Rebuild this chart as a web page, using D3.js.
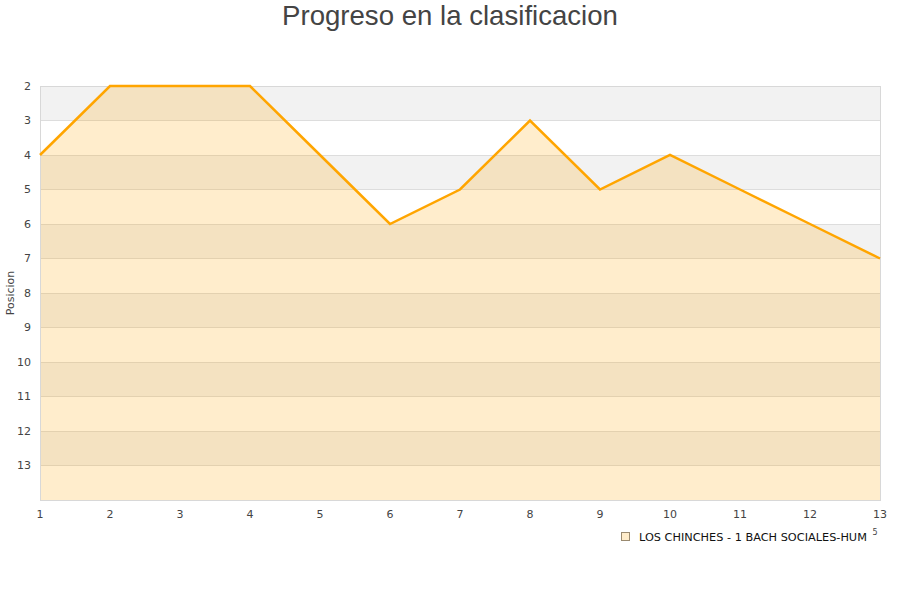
<!DOCTYPE html>
<html><head><meta charset="utf-8">
<script src="https://cdn.jsdelivr.net/npm/d3@7"></script>
<style>body{margin:0;background:#fff}svg{display:block}</style>
</head><body>
<svg id="c" width="900" height="600"></svg>
<script>
const rounds = [1,2,3,4,5,6,7,8,9,10,11,12,13];
const positions = [4,2,2,2,4,6,5,3,5,4,5,6,7];
const yTicks = [2,3,4,5,6,7,8,9,10,11,12,13];
const seriesName = "LOS CHINCHES - 1 BACH SOCIALES-HUM";
const title = "Progreso en la clasificacion";
const yTitle = "Posicion";

const svg = d3.select("#c");
const L = 40, R = 880, T = 86, B = 500;
const x = d3.scaleLinear().domain([1,13]).range([L,R]);
const y = d3.scaleLinear().domain([2,14]).range([T,B]);
const font = "'DejaVu Sans', sans-serif";

// bands
const bandStarts = yTicks.filter((d,i)=>i%2===0);
svg.append("g").selectAll("rect").data(bandStarts).join("rect")
  .attr("x", L).attr("width", R-L)
  .attr("y", d=>y(d)).attr("height", d=>y(d+1)-y(d))
  .attr("fill", "#f2f2f2");

// grid lines
svg.append("g").selectAll("line").data(yTicks).join("line")
  .attr("x1", L).attr("x2", R).attr("y1", d=>y(d)).attr("y2", d=>y(d))
  .attr("stroke", "#dddddd").attr("stroke-width", 1).attr("shape-rendering","crispEdges");

// area
const area = d3.area().x((d,i)=>x(rounds[i])).y0(y(14)).y1(d=>y(d));
svg.append("path").datum(positions).attr("d", area)
  .attr("fill", "#ffa500").attr("fill-opacity", 0.2);

// border
svg.append("rect").attr("x", L).attr("y", T).attr("width", R-L).attr("height", B-T)
  .attr("fill","none").attr("stroke","#d8d8d8").attr("stroke-width",1).attr("shape-rendering","crispEdges");

// line
const line = d3.line().x((d,i)=>x(rounds[i])).y(d=>y(d));
svg.append("path").datum(positions).attr("d", line)
  .attr("fill","none").attr("stroke","#ffa500").attr("stroke-width",2.5).attr("stroke-linejoin","miter");

// y axis labels
svg.append("g").selectAll("text").data(yTicks).join("text")
  .attr("x", 31).attr("y", d=>y(d)).attr("dy","0.35em")
  .attr("text-anchor","end").attr("font-family",font).attr("font-size",11).attr("fill","#444")
  .text(d=>d);

// x axis labels
svg.append("g").selectAll("text").data(rounds).join("text")
  .attr("x", d=>x(d)).attr("y", 514).attr("dy","0.35em")
  .attr("text-anchor","middle").attr("font-family",font).attr("font-size",11).attr("fill","#444")
  .text(d=>d);

// y title
svg.append("text").attr("transform","translate(14,293) rotate(-90)")
  .attr("text-anchor","middle").attr("font-family",font).attr("font-size",11).attr("fill","#444")
  .text(yTitle);

// title
svg.append("text").attr("x",450).attr("y",25).attr("text-anchor","middle")
  .attr("font-family","'Liberation Sans', Arial, sans-serif").attr("font-size",27.6).attr("fill","#444")
  .text(title);

// legend
svg.append("rect").attr("x",621.5).attr("y",532.5).attr("width",8).attr("height",8)
  .attr("fill","#ffecca").attr("stroke","#9a8a70").attr("stroke-width",1);
svg.append("text").attr("x",639).attr("y",537).attr("dy","0.35em")
  .attr("font-family",font).attr("font-size",11.3).attr("fill","#111")
  .text(seriesName);
svg.append("text").attr("x",875).attr("y",535).attr("text-anchor","middle")
  .attr("font-family",font).attr("font-size",8).attr("fill","#444").text("5");
</script>
</body></html>
